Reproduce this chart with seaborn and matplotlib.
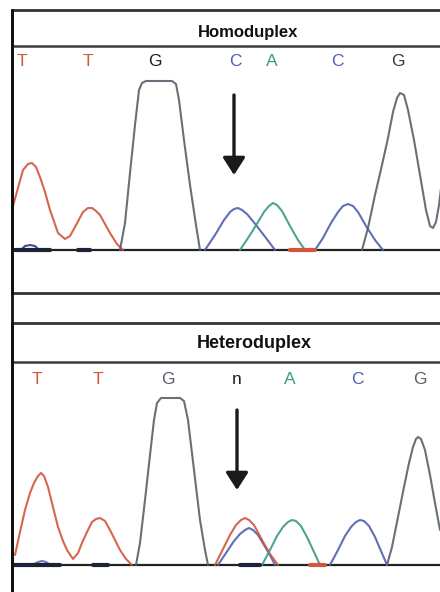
import matplotlib
matplotlib.use('Agg')
import matplotlib.pyplot as plt
import seaborn as sns

sns.set_style('white')

# colours of the four dye channels
RED = '#d2553c'
GRAY = '#59606a'
BLUE = '#4f60b0'
GREEN = '#3b9a88'
DARK = '#1c2238'

# base calls shown above each trace
homo_bases = ['T', 'T', 'G', 'C', 'A', 'C', 'G']
homo_base_pos = [22, 88, 155, 235, 272, 337, 398]
homo_base_col = [RED, RED, '#1e1e1e', BLUE, GREEN, BLUE, '#3a3a3a']

hetero_bases = ['T', 'T', 'G', 'n', 'A', 'C', 'G']
hetero_base_pos = [37, 98, 168, 237, 290, 357, 420]
hetero_base_col = [RED, RED, GRAY, '#1e1e1e', GREEN, BLUE, GRAY]

# --- Homoduplex trace (scan position, signal) ---
homo_T_x = [13, 18, 23, 28, 32, 36, 40, 45, 50, 58, 65, 70, 75, 83, 88, 92, 96, 100, 110, 117, 123]
homo_T_y = [44, 62, 80, 86, 87, 83, 73, 58, 40, 17, 11, 14, 23, 38, 42, 42, 39, 35, 17, 6, 0]
homo_G1_x = [120, 125, 130, 135, 139, 142, 146, 172, 176, 179, 184, 190, 196, 200]
homo_G1_y = [0, 27, 77, 125, 160, 167, 169, 169, 166, 150, 110, 65, 25, 0]
homo_C1_x = [205, 215, 224, 230, 234, 238, 242, 247, 256, 266, 275]
homo_C1_y = [0, 15, 30, 38, 41, 42, 40, 36, 25, 12, 0]
homo_A_x = [240, 250, 258, 264, 269, 273, 277, 282, 290, 298, 305]
homo_A_y = [0, 15, 28, 38, 44, 47, 45, 39, 24, 10, 0]
homo_C2_x = [315, 323, 331, 338, 343, 348, 353, 358, 366, 375, 383]
homo_C2_y = [0, 12, 27, 38, 44, 46, 44, 38, 24, 10, 0]
homo_G2_x = [362, 368, 375, 382, 388, 393, 397, 400, 404, 408, 414, 420, 426, 430, 433, 436, 439, 442]
homo_G2_y = [0, 22, 55, 85, 112, 138, 152, 157, 155, 140, 110, 75, 40, 24, 22, 28, 45, 70]
homo_bump_x = [22, 25, 30, 35, 38]
homo_bump_y = [1, 4, 5, 4, 1]
homo_blip_x = [[15, 50], [78, 90], [290, 315]]
homo_blip_c = [DARK, DARK, RED]

# --- Heteroduplex trace ---
het_T_x = [15, 20, 25, 30, 34, 38, 41, 44, 48, 53, 58, 63, 67, 73, 78, 82, 87, 92, 96, 100, 105, 110, 115, 120, 126, 132]
het_T_y = [10, 33, 55, 72, 82, 89, 92, 89, 78, 58, 38, 24, 15, 6, 12, 22, 33, 43, 46, 47, 44, 35, 25, 15, 6, 0]
het_G1_x = [136, 140, 145, 150, 154, 157, 161, 180, 184, 188, 194, 200, 205, 208]
het_G1_y = [0, 22, 65, 110, 145, 162, 167, 167, 164, 145, 95, 45, 15, 0]
het_R_x = [215, 223, 230, 236, 241, 245, 249, 254, 262, 270, 278]
het_R_y = [0, 16, 30, 40, 45, 47, 45, 40, 25, 11, 0]
het_B_x = [218, 226, 234, 240, 245, 249, 253, 258, 264, 270, 275]
het_B_y = [0, 12, 24, 31, 35, 37, 35, 30, 20, 10, 0]
het_A_x = [262, 270, 277, 283, 288, 292, 296, 301, 307, 314, 320]
het_A_y = [0, 15, 29, 38, 43, 45, 44, 39, 28, 13, 0]
het_C_x = [330, 338, 345, 351, 356, 360, 364, 369, 375, 381, 387]
het_C_y = [0, 15, 29, 38, 43, 45, 44, 39, 28, 14, 0]
het_G2_x = [387, 392, 398, 404, 409, 413, 416, 418, 421, 425, 430, 435, 440]
het_G2_y = [0, 18, 48, 78, 102, 118, 126, 128, 126, 115, 90, 62, 35]
het_bump_x = [34, 38, 42, 46, 49]
het_bump_y = [1, 3, 4, 3, 1]
het_blip_x = [[14, 60], [93, 108], [240, 260], [310, 325]]
het_blip_c = [DARK, DARK, DARK, RED]

homo_traces = [
    (homo_T_x, homo_T_y, RED),
    (homo_G1_x, homo_G1_y, GRAY),
    (homo_C1_x, homo_C1_y, BLUE),
    (homo_A_x, homo_A_y, GREEN),
    (homo_C2_x, homo_C2_y, BLUE),
    (homo_G2_x, homo_G2_y, GRAY),
    (homo_bump_x, homo_bump_y, '#2a3a80'),
]
het_traces = [
    (het_T_x, het_T_y, RED),
    (het_G1_x, het_G1_y, GRAY),
    (het_B_x, het_B_y, BLUE),
    (het_R_x, het_R_y, RED),
    (het_A_x, het_A_y, GREEN),
    (het_C_x, het_C_y, BLUE),
    (het_G2_x, het_G2_y, GRAY),
    (het_bump_x, het_bump_y, '#5a6ab0'),
]

W, H = 440, 592
fig = plt.figure(figsize=(4.4, 5.92), dpi=100)
font = ['Liberation Sans', 'DejaVu Sans']


def panel(rect, ylim, traces, blips, blip_cols, title, title_x, title_y, line_y, fs,
          bases, base_pos, base_col, base_y, arrow_x, bottom_spine):
    ax = fig.add_axes(rect)
    ax.axhline(0, color='#222222', lw=1.6, zorder=1)
    for xs, ys, c in traces:
        sns.lineplot(x=xs, y=ys, ax=ax, color=c, lw=1.5, sort=False,
                     estimator=None, alpha=0.9)
    for (x0, x1), c in zip(blips, blip_cols):
        sns.lineplot(x=[x0, x1], y=[0.5, 0.5], ax=ax, color=c, lw=3,
                     estimator=None)
    ax.axhline(line_y, color='#3c3c3c', lw=1.8)
    ax.text(title_x, title_y, title, ha='center', va='center', fontsize=fs,
            family=font, fontweight='bold', color='#111111')
    for b, p, c in zip(bases, base_pos, base_col):
        ax.text(p, base_y, b, ha='center', va='center', fontsize=12.5,
                family=font, color=c)
    ax.annotate('', xy=(arrow_x, 75), xytext=(arrow_x, 155),
                arrowprops=dict(arrowstyle='-|>,head_length=0.7,head_width=0.45',
                                lw=2.4, color='#1a1a1a', mutation_scale=15,
                                shrinkA=0, shrinkB=0))
    ax.set_xlim(12, 440)
    ax.set_ylim(*ylim)
    ax.set_xticks([])
    ax.set_yticks([])
    for s in ax.spines.values():
        s.set_visible(False)
    ax.spines['left'].set_visible(True)
    ax.spines['left'].set_linewidth(2)
    ax.spines['left'].set_color('#111111')
    ax.spines['top'].set_visible(True)
    ax.spines['top'].set_linewidth(2)
    ax.spines['top'].set_color('#333333')
    if bottom_spine:
        ax.spines['bottom'].set_visible(True)
        ax.spines['bottom'].set_linewidth(2)
        ax.spines['bottom'].set_color('#333333')
    return ax


panel([12 / W, 1 - 293 / H, 1 - 12 / W, 283 / H], (-43, 240), homo_traces,
      homo_blip_x, homo_blip_c, 'Homoduplex', 248, 217, 204, 12,
      homo_bases, homo_base_pos, homo_base_col, 188, 234, True)
panel([12 / W, 0, 1 - 12 / W, 269 / H], (-27, 242), het_traces,
      het_blip_x, het_blip_c, 'Heteroduplex', 254, 222, 203, 13,
      hetero_bases, hetero_base_pos, hetero_base_col, 185, 237, False)

# left border runs through the gap between the panels
fig.add_artist(plt.Line2D([12 / W, 12 / W], [0, 1 - 10 / H],
                          transform=fig.transFigure, color='#111111', lw=2))

fig.savefig('out.png', dpi=100)
